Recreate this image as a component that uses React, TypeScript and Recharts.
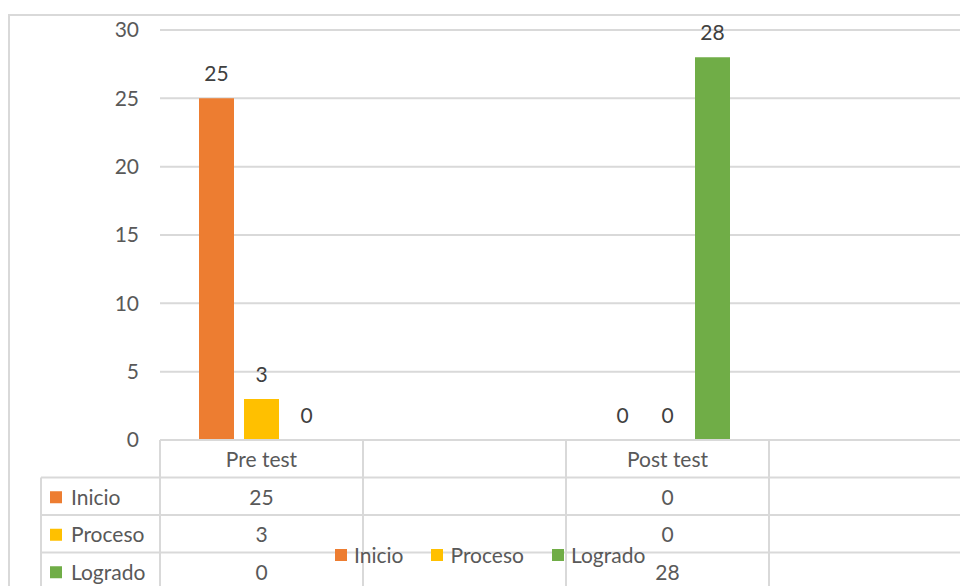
import React from 'react';
import { BarChart, Bar, XAxis, YAxis, CartesianGrid, LabelList, Legend } from 'recharts';

const categories = ['Pre test', '', 'Post test', ''];
const inicio = [25, null, 0, null];
const proceso = [3, null, 0, null];
const logrado = [0, null, 28, null];
const yTicks = [0, 5, 10, 15, 20, 25, 30];

const seriesNames = ['Inicio', 'Proceso', 'Logrado'];
const seriesColors = ['#ED7D31', '#FFC000', '#70AD47'];
const seriesValues = [inicio, proceso, logrado];

const data = categories.map((c, i) => ({
  key: i,
  cat: c,
  Inicio: inicio[i],
  Proceso: proceso[i],
  Logrado: logrado[i],
}));

const GRID = '#d9d9d9';
const TEXT = '#595959';
const LABEL = '#404040';
const FONT = 'Lato, "Open Sans", sans-serif';
const FS = 21;
const ROW_H = 37.5;
const FAR_RIGHT = 1000;
const BOTTOM = 600;

const TableTick = (props: any) => {
  const { x, y, payload } = props;
  const i: number = typeof payload.index === 'number' ? payload.index : Number(payload.value);
  const half: number = payload.offset && payload.offset > 0 ? payload.offset : 101.5;
  const top = y;
  const left = x - half;
  const elems: any[] = [];
  elems.push(<line key="vl" x1={left} x2={left} y1={top} y2={BOTTOM} stroke={GRID} strokeWidth={2} />);
  if (i === categories.length - 1) {
    elems.push(<line key="vr" x1={x + half} x2={x + half} y1={top} y2={BOTTOM} stroke={GRID} strokeWidth={2} />);
  }
  elems.push(
    <text key="h" x={x} y={top + ROW_H / 2 + 1} dy="0.35em" textAnchor="middle" fill={TEXT} fontSize={FS} fontFamily={FONT}>
      {categories[i]}
    </text>
  );
  seriesValues.forEach((vals, s) => {
    const v = vals[i];
    if (v !== null && v !== undefined) {
      elems.push(
        <text key={'v' + s} x={x} y={top + ROW_H * (s + 1) + ROW_H / 2 + 1} dy="0.35em" textAnchor="middle" fill={TEXT} fontSize={FS} fontFamily={FONT}>
          {v}
        </text>
      );
    }
  });
  if (i === 0) {
    const colLeft = left - 119;
    elems.push(<line key="h0" x1={left} x2={FAR_RIGHT} y1={top} y2={top} stroke={GRID} strokeWidth={2} />);
    for (let k = 1; k <= 3; k++) {
      elems.push(
        <line key={'hl' + k} x1={colLeft} x2={FAR_RIGHT} y1={top + ROW_H * k} y2={top + ROW_H * k} stroke={GRID} strokeWidth={2} />
      );
    }
    elems.push(<line key="vc" x1={colLeft} x2={colLeft} y1={top + ROW_H} y2={BOTTOM} stroke={GRID} strokeWidth={2} />);
    seriesNames.forEach((n, s) => {
      const cy = top + ROW_H * (s + 1) + ROW_H / 2 + 1;
      elems.push(<rect key={'sq' + s} x={colLeft + 9} y={cy - 6} width={12} height={12} fill={seriesColors[s]} />);
      elems.push(
        <text key={'rn' + s} x={colLeft + 30} y={cy} dy="0.35em" textAnchor="start" fill={TEXT} fontSize={FS} fontFamily={FONT}>
          {n}
        </text>
      );
    });
  }
  return <g>{elems}</g>;
};

const BarLabel = (props: any) => {
  const { x, y, width, value } = props;
  if (value === null || value === undefined) return null;
  return (
    <text x={Number(x) + Number(width) / 2} y={Number(y) - 17} textAnchor="middle" fill={LABEL} fontSize={FS} fontFamily={FONT}>
      {value}
    </text>
  );
};

const LegendContent = () => (
  <div style={{ display: 'flex', alignItems: 'center', fontSize: FS, color: TEXT, fontFamily: FONT, whiteSpace: 'nowrap' }}>
    {seriesNames.map((n, i) => (
      <span key={n} style={{ display: 'flex', alignItems: 'center', marginRight: i < seriesNames.length - 1 ? 28 : 0 }}>
        <span style={{ display: 'inline-block', width: 12, height: 12, background: seriesColors[i], marginRight: 7 }} />
        <span>{n}</span>
      </span>
    ))}
  </div>
);

export default function App() {
  return (
    <div style={{ position: 'fixed', left: 0, top: 0, width: 960, height: 586, overflow: 'hidden', background: '#fff', fontFamily: FONT }}>
      <div style={{ position: 'absolute', left: 8, top: 14, width: 1000, height: 700, borderTop: `2px solid ${GRID}`, borderLeft: `2px solid ${GRID}` }} />
      <div style={{ position: 'absolute', left: 0, top: 0 }}>
        <BarChart
          width={1000}
          height={600}
          data={data}
          margin={{ top: 30, right: 28, bottom: 0, left: 0 }}
          barSize={35}
          barGap={10}
        >
          <CartesianGrid vertical={false} stroke={GRID} strokeWidth={2} />
          <XAxis
            dataKey="key"
            type="category"
            height={160}
            axisLine={false}
            tickLine={false}
            tickSize={0}
            tickMargin={0}
            interval={0}
            tick={<TableTick />}
          />
          <YAxis
            width={160}
            domain={[0, 30]}
            ticks={yTicks}
            axisLine={false}
            tickLine={false}
            tickSize={0}
            tickMargin={21}
            tick={{ fill: TEXT, fontSize: FS, fontFamily: FONT }}
          />
          <Legend
            layout="horizontal"
            verticalAlign="middle"
            align="center"
            content={<LegendContent />}
            wrapperStyle={{ left: 335, top: 542, width: 'auto' }}
          />
          {seriesNames.map((n, s) => (
            <Bar key={n} dataKey={n} fill={seriesColors[s]} minPointSize={0.01} isAnimationActive={false}>
              <LabelList dataKey={n} content={<BarLabel />} />
            </Bar>
          ))}
        </BarChart>
      </div>
    </div>
  );
}
